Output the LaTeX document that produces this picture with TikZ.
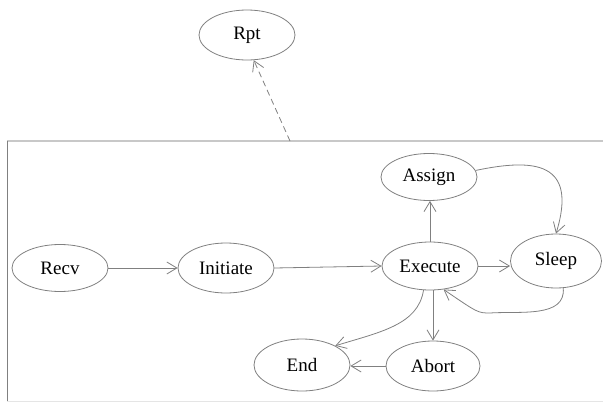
\documentclass[tikz,border=0pt]{standalone}
\usepackage{fontspec}
\setmainfont{Liberation Serif}
\usetikzlibrary{shapes.geometric,arrows.meta}
\definecolor{lc}{RGB}{128,128,128}
\definecolor{fr}{RGB}{200,200,200}
\tikzset{
  st/.style={ellipse,draw=lc,line width=0.8pt,inner sep=0pt,font=\fontsize{19}{22}\selectfont,text=black},
  ar/.style={draw=lc,line width=0.8pt,-{Straight Barb[length=10pt,width=12pt]}},
}
\begin{document}
\begin{tikzpicture}[x=1pt,y=-1pt]
\useasboundingbox (0,0) rectangle (603,402);
\draw[fr,line width=1.2pt] (7,141) -- (603,141);
\draw[lc,line width=1pt] (7,141) -- (7,402);
\draw[black!10,line width=0.6pt] (7,401) -- (603,401);
\coordinate (ft) at (290,141);
\node[st,minimum width=96pt,minimum height=50pt] (Rpt) at (247,35) {Rpt};
\node[st,minimum width=96pt,minimum height=47pt] (Recv) at (60,268) {Recv};
\node[st,minimum width=96pt,minimum height=50pt] (Init) at (226,268) {Initiate};
\node[st,minimum width=96pt,minimum height=48pt] (Exec) at (430,266) {Execute};
\node[st,minimum width=96pt,minimum height=47pt] (Assign) at (429,177) {Assign};
\node[st,minimum width=91pt,minimum height=54pt] (Sleep) at (556,261) {Sleep};
\node[st,minimum width=96pt,minimum height=52pt] (End) at (302,365) {End};
\node[st,minimum width=94pt,minimum height=50pt] (Abort) at (433,366) {Abort};
\draw[ar,dash pattern=on 6pt off 4pt] (ft) -- (Rpt.-75);
\draw[ar] (Recv) -- (Init);
\draw[ar] (Init.east) -- (Exec.west);
\draw[ar] (Exec.east) -- (Sleep.west |- Exec.east);
\draw[ar] (Exec.north) -- (Assign.south -| Exec.north);
\draw[ar] (Exec.south -| Abort.north) -- (Abort.north);
\draw[ar] (Abort.west) -- (End.east |- Abort.west);
\draw[ar] (Assign.8) .. controls (535,158) and (578,162) .. (Sleep.north);
\draw[ar] (Sleep.-75) .. controls (566,318) and (520,311) .. (490,313) .. controls (478,313) .. (Exec.-60);
\draw[ar] (Exec.-105) .. controls (418,325) and (380,332) .. (End.30);
\end{tikzpicture}
\end{document}
